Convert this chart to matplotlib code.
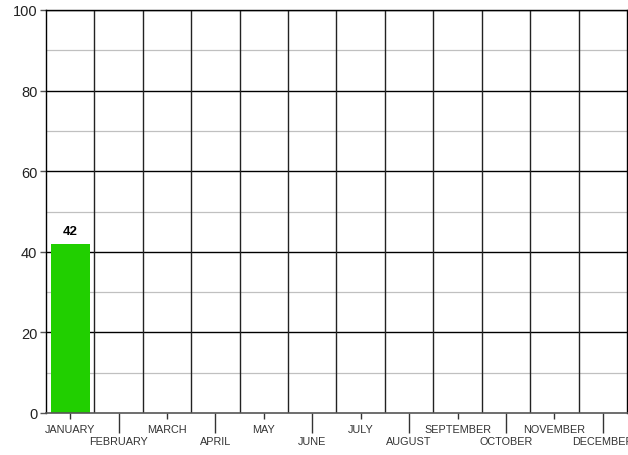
import matplotlib
matplotlib.use("Agg")
import matplotlib.pyplot as plt
import numpy as np

plt.rcParams['font.family'] = ['Liberation Sans', 'DejaVu Sans']

months = ["JANUARY", "FEBRUARY", "MARCH", "APRIL", "MAY", "JUNE", "JULY",
          "AUGUST", "SEPTEMBER", "OCTOBER", "NOVEMBER", "DECEMBER"]
values = [42, 0, 0, 0, 0, 0, 0, 0, 0, 0, 0, 0]
y_ticks = [0, 20, 40, 60, 80, 100]

fig = plt.figure(figsize=(6.28, 4.56), dpi=100)
ax = fig.add_axes([46/628, 42/456, 581/628, 403/456])

x = np.arange(len(months))
ax.set_xlim(-0.5, len(months) - 0.5)
ax.set_ylim(0, 100)

# grid
for yv in range(10, 100, 20):
    ax.axhline(yv, color='#c0c0c0', lw=0.9, zorder=0)
for yv in y_ticks[1:]:
    ax.axhline(yv, color='black', lw=1.0, zorder=0)
for i in range(1, len(months)):
    ax.axvline(i - 0.5, color='#222222', lw=1.0, zorder=0)

bars = ax.bar(x, values, width=0.8, color='#21cf00', zorder=2)
for xi, v in zip(x, values):
    if v:
        ax.text(xi, v + 1.6, str(v), ha='center', va='bottom',
                fontsize=9.5, fontweight='bold', color='black')

for s in ['left', 'right', 'top']:
    ax.spines[s].set_color('black')
    ax.spines[s].set_linewidth(1.0)
ax.spines['bottom'].set_color('#555555')
ax.spines['bottom'].set_linewidth(1.2)

ax.set_yticks(y_ticks)
ax.tick_params(axis='y', length=4.3, width=1, color='#555555', labelsize=10.5,
               labelcolor='#222222', pad=2)

even = x[::2]
odd = x[1::2]
ax.set_xticks(even)
ax.set_xticklabels([months[i] for i in even])
ax.set_xticks(odd, minor=True)
ax.set_xticklabels([months[i] for i in odd], minor=True)
ax.tick_params(axis='x', which='major', length=4.3, width=1, color='#333333',
               labelsize=7.8, labelcolor='#333333', pad=3.4)
ax.tick_params(axis='x', which='minor', length=14.4, width=1, color='#333333',
               labelsize=7.8, labelcolor='#333333', pad=2.2)

fig.savefig('out.png', dpi=100)
